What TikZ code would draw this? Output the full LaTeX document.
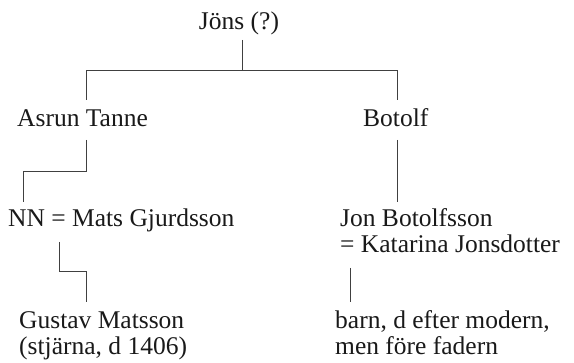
\documentclass[tikz,border=0pt]{standalone}
\usepackage{fontspec}
\setmainfont{Liberation Serif}
\begin{document}
\begin{tikzpicture}[x=1pt,y=-1pt,
  lbl/.style={anchor=base west, inner sep=0pt, text=black!90, font=\fontsize{25.5}{26}\selectfont, align=left},
  conn/.style={line width=0.9pt, draw=black!75}]
\useasboundingbox (0,0) rectangle (574,363);
% people
\node[lbl, anchor=base] (jons) at (239,30) {Jöns (?)};
\node[lbl] (asrun) at (17,127) {Asrun Tanne};
\node[lbl] (botolf) at (363,127) {Botolf};
\node[lbl] (nn) at (8,227) {NN = Mats Gjurdsson};
\node[lbl] (jon) at (340,253) {Jon Botolfsson\\= Katarina Jonsdotter};
\node[lbl] (gustav) at (19,355) {Gustav Matsson\\(stjärna, d 1406)};
\node[lbl] (barn) at (335,355) {barn, d efter modern,\\men före fadern};
% connector points
\coordinate (j0) at (242,40);
\coordinate (j1) at (242,70);
\coordinate (l0) at (86,70);
\coordinate (l1) at (86,100);
\coordinate (r0) at (397,70);
\coordinate (r1) at (397,100);
\coordinate (a0) at (86,140);
\coordinate (a1) at (23,171);
\coordinate (a2) at (23,202);
\coordinate (b0) at (397,140);
\coordinate (b1) at (397,202);
\coordinate (m0) at (59,242);
\coordinate (m1) at (86,271);
\coordinate (m2) at (86,302);
\coordinate (k0) at (350,268);
\coordinate (k1) at (350,302);
% connectors
\draw[conn] (j0) -- (j1);
\draw[conn] (l1) -- (l0) -- (r0) -- (r1);
\draw[conn] (a0) |- (a1) -- (a2);
\draw[conn] (b0) -- (b1);
\draw[conn] (m0) |- (m1) -- (m2);
\draw[conn] (k0) -- (k1);
\end{tikzpicture}
\end{document}
